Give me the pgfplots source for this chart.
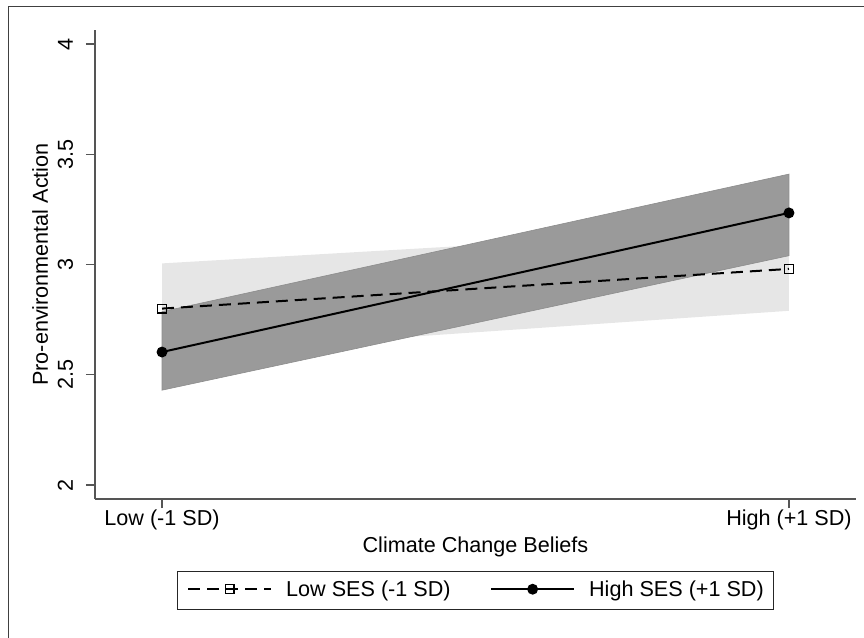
\documentclass[border=0pt]{standalone}
\usepackage{fontspec}
\setmainfont{Liberation Sans}
\usepackage{pgfplots}
\pgfplotsset{compat=1.18}
\definecolor{lightband}{HTML}{E6E6E6}
\definecolor{darkband}{HTML}{9A9A9A}
\definecolor{axgray}{HTML}{555555}
\begin{document}
\begin{tikzpicture}
\begin{axis}[
  at={(0,0)}, anchor=south west,
  scale only axis, width=380.5pt, height=234.5pt,
  xmin=-0.1069, xmax=1.1069, ymin=1.9365, ymax=4.0635,
  axis lines*=left,
  axis line style={axgray, line width=0.55pt},
  every tick/.style={axgray, line width=0.55pt},
  tick align=outside, major tick length=4.5pt,
  xtick={0,1}, xticklabels={Low (-1 SD), High (+1 SD)},
  ytick={2,2.5,3,3.5,4},
  yticklabels={2,2.5,3,3.5,4},
  /pgf/number format/assume math mode=true,
  font=\fontsize{10.8}{13}\selectfont,
  ticklabel style={font=\fontsize{10.8}{13}\selectfont, inner sep=0pt},
  yticklabel style={rotate=90, anchor=base},
  yticklabel shift=6.6pt,
  xticklabel style={anchor=base},
  xticklabel shift=8.5pt,
  xlabel={Climate Change Beliefs},
  ylabel={Pro-environmental Action},
  xlabel style={at={(axis description cs:0.5,-0.113)}, anchor=base, inner sep=0pt},
  ylabel style={at={(axis description cs:-0.0618,0.5)}, anchor=base, inner sep=0pt},
  legend columns=2,
  legend style={at={(axis description cs:0.5,-0.1951)}, anchor=center,
    draw=black!85, line width=0.5pt, inner xsep=5pt, inner ysep=4.6pt,
    font=\fontsize{10.8}{13}\selectfont,
    nodes={inner sep=0pt, anchor=base},
    /tikz/every odd column/.append style={column sep=7pt},
    /tikz/every even column/.append style={column sep=19.75pt}},
  legend image code/.code={\draw[mark repeat=2,mark phase=2,#1] plot coordinates {(0pt,3.8pt) (20.75pt,3.8pt) (41.5pt,3.8pt)};},
  clip=false,
]
% Low SES CI band
\addplot[fill=lightband, draw=none, forget plot] coordinates {(0,2.595) (1,2.79) (1,3.17) (0,3.005)} -- cycle;
% High SES CI band
\addplot[fill=darkband, draw=black!45, line width=0.3pt, forget plot] coordinates {(0,2.43) (1,3.04) (1,3.41) (0,2.786)} -- cycle;
\addplot[black, line width=1pt, dash pattern=on 6pt off 3.5pt, mark=square, mark size=2.2pt, mark options={solid, line width=0.6pt, fill=white}] coordinates {(0,2.80) (1,2.98)};
\addlegendentry{Low SES (-1 SD)}
\addplot[black, line width=1pt, mark=*, mark size=2.2pt, mark options={solid}] coordinates {(0,2.603) (1,3.234)};
\addlegendentry{High SES (+1 SD)}
\end{axis}
\draw[black!75, line width=0.5pt] (-43pt,-69.5pt) -- (-43pt,246pt) -- (384.5pt,246pt);
\pgfresetboundingbox
\path[use as bounding box] (-47.5pt,-69.5pt) rectangle (384.5pt,249.5pt);
\end{tikzpicture}
\end{document}
